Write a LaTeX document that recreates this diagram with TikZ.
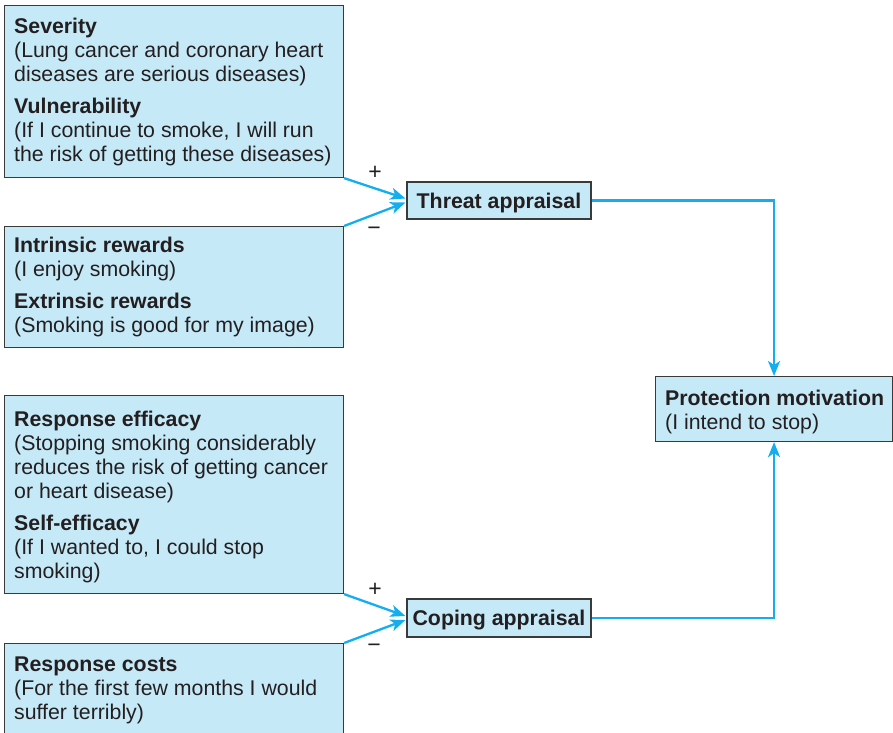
\documentclass[tikz,border=0pt]{standalone}
\usepackage{fontspec}
\setmainfont{Liberation Sans}
\usetikzlibrary{arrows.meta,calc}
\definecolor{boxfill}{HTML}{C6E9F8}
\definecolor{boxline}{HTML}{3A3A3A}
\definecolor{linkblue}{HTML}{14AEEF}
\definecolor{ink}{HTML}{231F20}
\begin{document}
\begin{tikzpicture}[x=1pt,y=-1pt,
  box/.style={draw=boxline,fill=boxfill,line width=1.1pt,inner sep=0pt,anchor=north west},
  txt/.style={inner sep=0pt,align=left,anchor=north west,text=ink,
    font=\fontsize{21.3}{24}\selectfont},
  stage/.style={draw=boxline,fill=boxfill,line width=1.1pt,inner sep=0pt,text=ink,
    text height=15.3pt,text depth=0pt,
    font=\fontsize{21.3}{24}\selectfont\bfseries},
  link/.style={draw=linkblue,line width=2.3pt,-{Stealth[length=15pt,width=12pt,inset=4pt]}},
  sign/.style={inner sep=0pt,text=ink,font=\fontsize{23}{24}\selectfont}]
\useasboundingbox (0,0) rectangle (893,732);

% threat side: determinants
\node[box,minimum width=339pt,minimum height=172pt] (sev) at (4,5) {};
\node[txt] (sevtxt) at (14,17)
  {\rule{0pt}{16pt}\textbf{Severity}\\
   (Lung cancer and coronary heart\\
   diseases are serious diseases)\\[8pt]
   \textbf{Vulnerability}\\
   (If I continue to smoke, I will run\\
   the risk of getting these diseases)};

\node[box,minimum width=339pt,minimum height=121pt] (intr) at (4,226) {};
\node[txt] (intrtxt) at (14,236)
  {\rule{0pt}{16pt}\textbf{Intrinsic rewards}\\
   (I enjoy smoking)\\[8pt]
   \textbf{Extrinsic rewards}\\
   (Smoking is good for my image)};

% coping side: determinants
\node[box,minimum width=339pt,minimum height=198pt] (eff) at (4,395) {};
\node[txt] (efftxt) at (14,410)
  {\rule{0pt}{16pt}\textbf{Response efficacy}\\
   (Stopping smoking considerably\\
   reduces the risk of getting cancer\\
   or heart disease)\\[8pt]
   \textbf{Self-efficacy}\\
   (If I wanted to, I could stop\\
   smoking)};

\node[box,minimum width=339pt,minimum height=110pt] (cost) at (4,643) {};
\node[txt] (costtxt) at (14,655)
  {\rule{0pt}{16pt}\textbf{Response costs}\\
   (For the first few months I would\\
   suffer terribly)};

% appraisal stages
\node[stage,minimum width=184pt,minimum height=37pt] (threat) at (499,200.5) {Threat appraisal};
\node[stage,minimum width=184pt,minimum height=38pt] (coping) at (499,618) {Coping appraisal};

% outcome
\node[box,minimum width=237pt,minimum height=65pt] (prot) at (655,376) {};
\node[txt] (prottxt) at (665,389)
  {\rule{0pt}{16pt}\textbf{Protection motivation}\\
   (I intend to stop)};

% connectors
\draw[link] (sev.south east) -- ($(threat.west)+(-1,-2)$);
\draw[link] (intr.north east) -- ($(threat.west)+(-1,2)$);
\draw[link] (eff.south east) -- ($(coping.west)+(-1,-2)$);
\draw[link] (cost.north east) -- ($(coping.west)+(-1,2)$);
\draw[link] (threat.east) -| (prot.north);
\draw[link] (coping.east) -| (prot.south);

% signs
\node[sign] (plusA) at (375,172.5) {+};
\node[sign] (minusA) at (374,231) {−};
\node[sign] (plusB) at (375,589.5) {+};
\node[sign] (minusB) at (374,648) {−};
\end{tikzpicture}
\end{document}
